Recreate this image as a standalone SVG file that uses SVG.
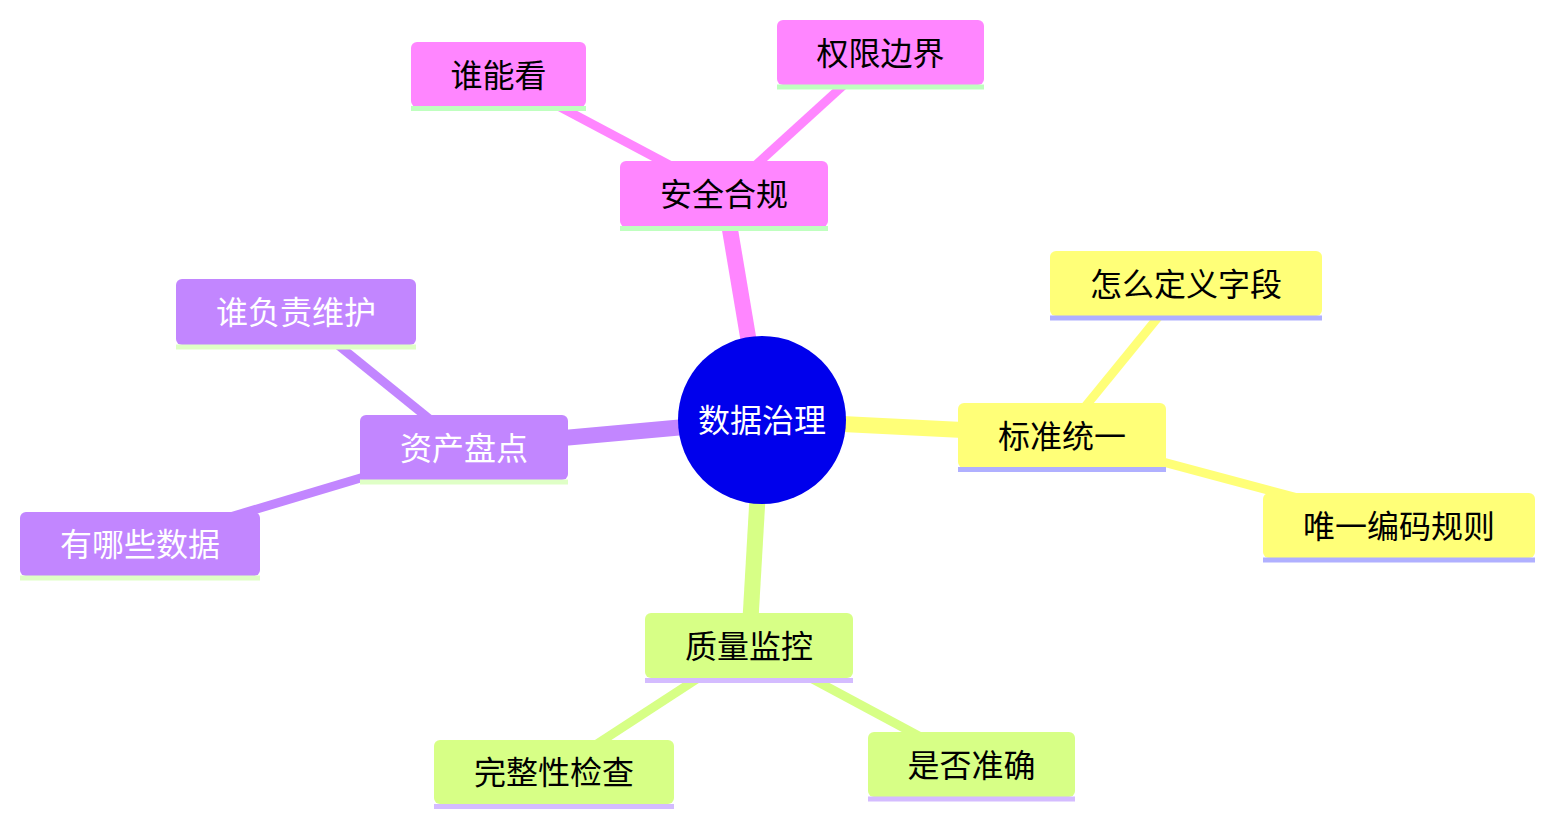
<svg xmlns="http://www.w3.org/2000/svg" width="1554" height="827" viewBox="0 0 1554 827">
<style>
text{font-family:"Noto Sans CJK SC","Noto Sans",sans-serif;font-size:32px;text-anchor:middle;dominant-baseline:central;}
.dark{fill:#000;}
.light{fill:#fff;}
.e0{stroke-width:16;fill:none;}
.e1{stroke-width:9;fill:none;}
.s1 rect{fill:#FFFF78;} .s1 line{stroke:#B0B0FF;stroke-width:5;}
.s2 rect{fill:#D7FF86;} .s2 line{stroke:#D4BCFF;stroke-width:5;}
.s3 rect{fill:#C286FF;} .s3 line{stroke:#DFFFC6;stroke-width:5;}
.s4 rect{fill:#FF86FF;} .s4 line{stroke:#BFFFBF;stroke-width:5;}
.c1{stroke:#FFFF78;} .c2{stroke:#D7FF86;} .c3{stroke:#C286FF;} .c4{stroke:#FF86FF;}
</style>
<rect width="1554" height="827" fill="#fff"/>
<g id="connectors">
<line class="e0 c4" x1="762" y1="420" x2="724" y2="194"/>
<line class="e0 c1" x1="762" y1="420" x2="1062" y2="435"/>
<line class="e0 c3" x1="762" y1="420" x2="464" y2="447"/>
<line class="e0 c2" x1="762" y1="420" x2="749" y2="645"/>
<line class="e1 c4" x1="724" y1="194" x2="498" y2="74"/>
<line class="e1 c4" x1="724" y1="194" x2="880" y2="52"/>
<line class="e1 c1" x1="1062" y1="435" x2="1186" y2="283"/>
<line class="e1 c1" x1="1062" y1="435" x2="1399" y2="525"/>
<line class="e1 c3" x1="464" y1="447" x2="296" y2="311"/>
<line class="e1 c3" x1="464" y1="447" x2="140" y2="544"/>
<line class="e1 c2" x1="749" y1="645" x2="554" y2="772"/>
<line class="e1 c2" x1="749" y1="645" x2="971" y2="764"/>
</g>
<g id="root">
<circle cx="762" cy="420" r="84" fill="#0000EC"/>
<text class="light" x="762" y="418">数据治理</text>
</g>
<g id="n-anquan" class="s4">
<rect x="620" y="161" width="208" height="66" rx="6"/>
<line x1="620" y1="228.5" x2="828" y2="228.5"/>
<text class="dark" x="724" y="192">安全合规</text>
</g>
<g id="n-shui" class="s4">
<rect x="411" y="42" width="175" height="65" rx="6"/>
<line x1="411" y1="108.5" x2="586" y2="108.5"/>
<text class="dark" x="498.5" y="72.5">谁能看</text>
</g>
<g id="n-quanxian" class="s4">
<rect x="777" y="20" width="207" height="65" rx="6"/>
<line x1="777" y1="87" x2="984" y2="87"/>
<text class="dark" x="880.5" y="50.5">权限边界</text>
</g>
<g id="n-biaozhun" class="s1">
<rect x="958" y="403" width="208" height="65" rx="6"/>
<line x1="958" y1="469.5" x2="1166" y2="469.5"/>
<text class="dark" x="1062" y="433.5">标准统一</text>
</g>
<g id="n-zenme" class="s1">
<rect x="1050" y="251" width="272" height="65" rx="6"/>
<line x1="1050" y1="318" x2="1322" y2="318"/>
<text class="dark" x="1186" y="281.5">怎么定义字段</text>
</g>
<g id="n-weiyi" class="s1">
<rect x="1263" y="493" width="272" height="65" rx="6"/>
<line x1="1263" y1="560" x2="1535" y2="560"/>
<text class="dark" x="1399" y="523.5">唯一编码规则</text>
</g>
<g id="n-zichan" class="s3">
<rect x="360" y="415" width="208" height="65" rx="6"/>
<line x1="360" y1="482" x2="568" y2="482"/>
<text class="light" x="464" y="445.5">资产盘点</text>
</g>
<g id="n-fuze" class="s3">
<rect x="176" y="279" width="240" height="66" rx="6"/>
<line x1="176" y1="347" x2="416" y2="347"/>
<text class="light" x="296" y="310">谁负责维护</text>
</g>
<g id="n-younaxie" class="s3">
<rect x="20" y="512" width="240" height="64" rx="6"/>
<line x1="20" y1="578" x2="260" y2="578"/>
<text class="light" x="140" y="542">有哪些数据</text>
</g>
<g id="n-zhiliang" class="s2">
<rect x="645" y="613" width="208" height="65" rx="6"/>
<line x1="645" y1="680.5" x2="853" y2="680.5"/>
<text class="dark" x="749" y="643.5">质量监控</text>
</g>
<g id="n-wanzheng" class="s2">
<rect x="434" y="740" width="240" height="64" rx="6"/>
<line x1="434" y1="806.5" x2="674" y2="806.5"/>
<text class="dark" x="554" y="770">完整性检查</text>
</g>
<g id="n-shifou" class="s2">
<rect x="868" y="732" width="207" height="65" rx="6"/>
<line x1="868" y1="799" x2="1075" y2="799"/>
<text class="dark" x="971.5" y="762.5">是否准确</text>
</g>
</svg>
